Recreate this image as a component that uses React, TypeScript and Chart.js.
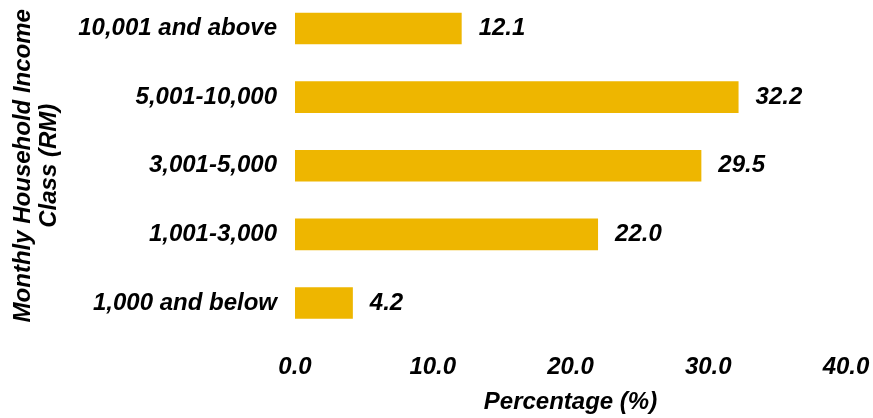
import React, { useEffect, useRef } from "react";
import { Chart, registerables } from "chart.js";

Chart.register(...registerables);

const categories = [
  "10,001 and above",
  "5,001-10,000",
  "3,001-5,000",
  "1,001-3,000",
  "1,000 and below",
];
const percentages = [12.1, 32.2, 29.5, 22.0, 4.2];
const xTickMin = 0;
const xTickMax = 40;
const xTickStep = 10;
const yTitleLines = ["Monthly Household Income", "Class (RM)"];
const xTitle = "Percentage (%)";

const FONT_FAMILY = "'Liberation Sans', Arial, sans-serif";
const FONT_SIZE = 24;
const BAR_COLOR = "#EEB600";
const TEXT_COLOR = "#000000";

const valueLabels = {
  id: "valueLabels",
  afterDatasetsDraw(chart: any) {
    const ctx = chart.ctx;
    const meta = chart.getDatasetMeta(0);
    ctx.save();
    ctx.font = `italic bold ${FONT_SIZE}px ${FONT_FAMILY}`;
    ctx.fillStyle = TEXT_COLOR;
    ctx.textAlign = "left";
    ctx.textBaseline = "middle";
    meta.data.forEach((bar: any, i: number) => {
      const v = chart.data.datasets[0].data[i] as number;
      ctx.fillText(v.toFixed(1), bar.x + 17, bar.y);
    });
    ctx.restore();
  },
};

export default function App() {
  const canvasRef = useRef<HTMLCanvasElement | null>(null);

  useEffect(() => {
    if (!canvasRef.current) return;
    const font = { family: FONT_FAMILY, size: FONT_SIZE, weight: "bold" as const, style: "italic" as const };
    const chart = new Chart(canvasRef.current, {
      type: "bar",
      data: {
        labels: categories,
        datasets: [
          {
            data: percentages,
            backgroundColor: BAR_COLOR,
            borderWidth: 0,
            categoryPercentage: 1,
            barPercentage: 0.46,
            clip: false as any,
          },
        ],
      },
      options: {
        indexAxis: "y",
        responsive: false,
        animation: false,
        layout: { padding: { left: 6, right: 27, top: 28.5, bottom: 0 } },
        plugins: {
          legend: { display: false },
          tooltip: { enabled: false },
        },
        scales: {
          x: {
            min: xTickMin,
            max: xTickMax,
            grid: { display: false, drawTicks: false },
            border: { display: false },
            ticks: {
              stepSize: xTickStep,
              color: TEXT_COLOR,
              font,
              padding: 50,
              callback: (v: any) => Number(v).toFixed(1),
            },
            title: {
              display: true,
              text: xTitle,
              color: TEXT_COLOR,
              font,
              padding: { top: 4, bottom: 1 },
            },
            afterFit: (scale: any) => {
              scale.height = 418 - 303;
              scale.paddingLeft = 0;
              scale.paddingRight = 0;
            },
          },
          y: {
            offset: false,
            grid: { display: false, drawTicks: false },
            border: { display: false },
            ticks: {
              color: TEXT_COLOR,
              font,
              padding: 18,
            },
            title: {
              display: true,
              text: yTitleLines,
              color: TEXT_COLOR,
              font: { ...font, lineHeight: 1.1 },
              padding: { top: 4, bottom: 4 },
            },
            afterFit: (scale: any) => {
              scale.width = 295 - 6;
              scale.paddingTop = 0;
              scale.paddingBottom = 0;
            },
          },
        },
      },
      plugins: [valueLabels],
    });
    return () => chart.destroy();
  }, []);

  return (
    <div style={{ position: "fixed", left: 0, top: 0, width: 873, height: 418, background: "#fff" }}>
      <canvas ref={canvasRef} width={873} height={418} style={{ width: 873, height: 418 }} />
    </div>
  );
}
